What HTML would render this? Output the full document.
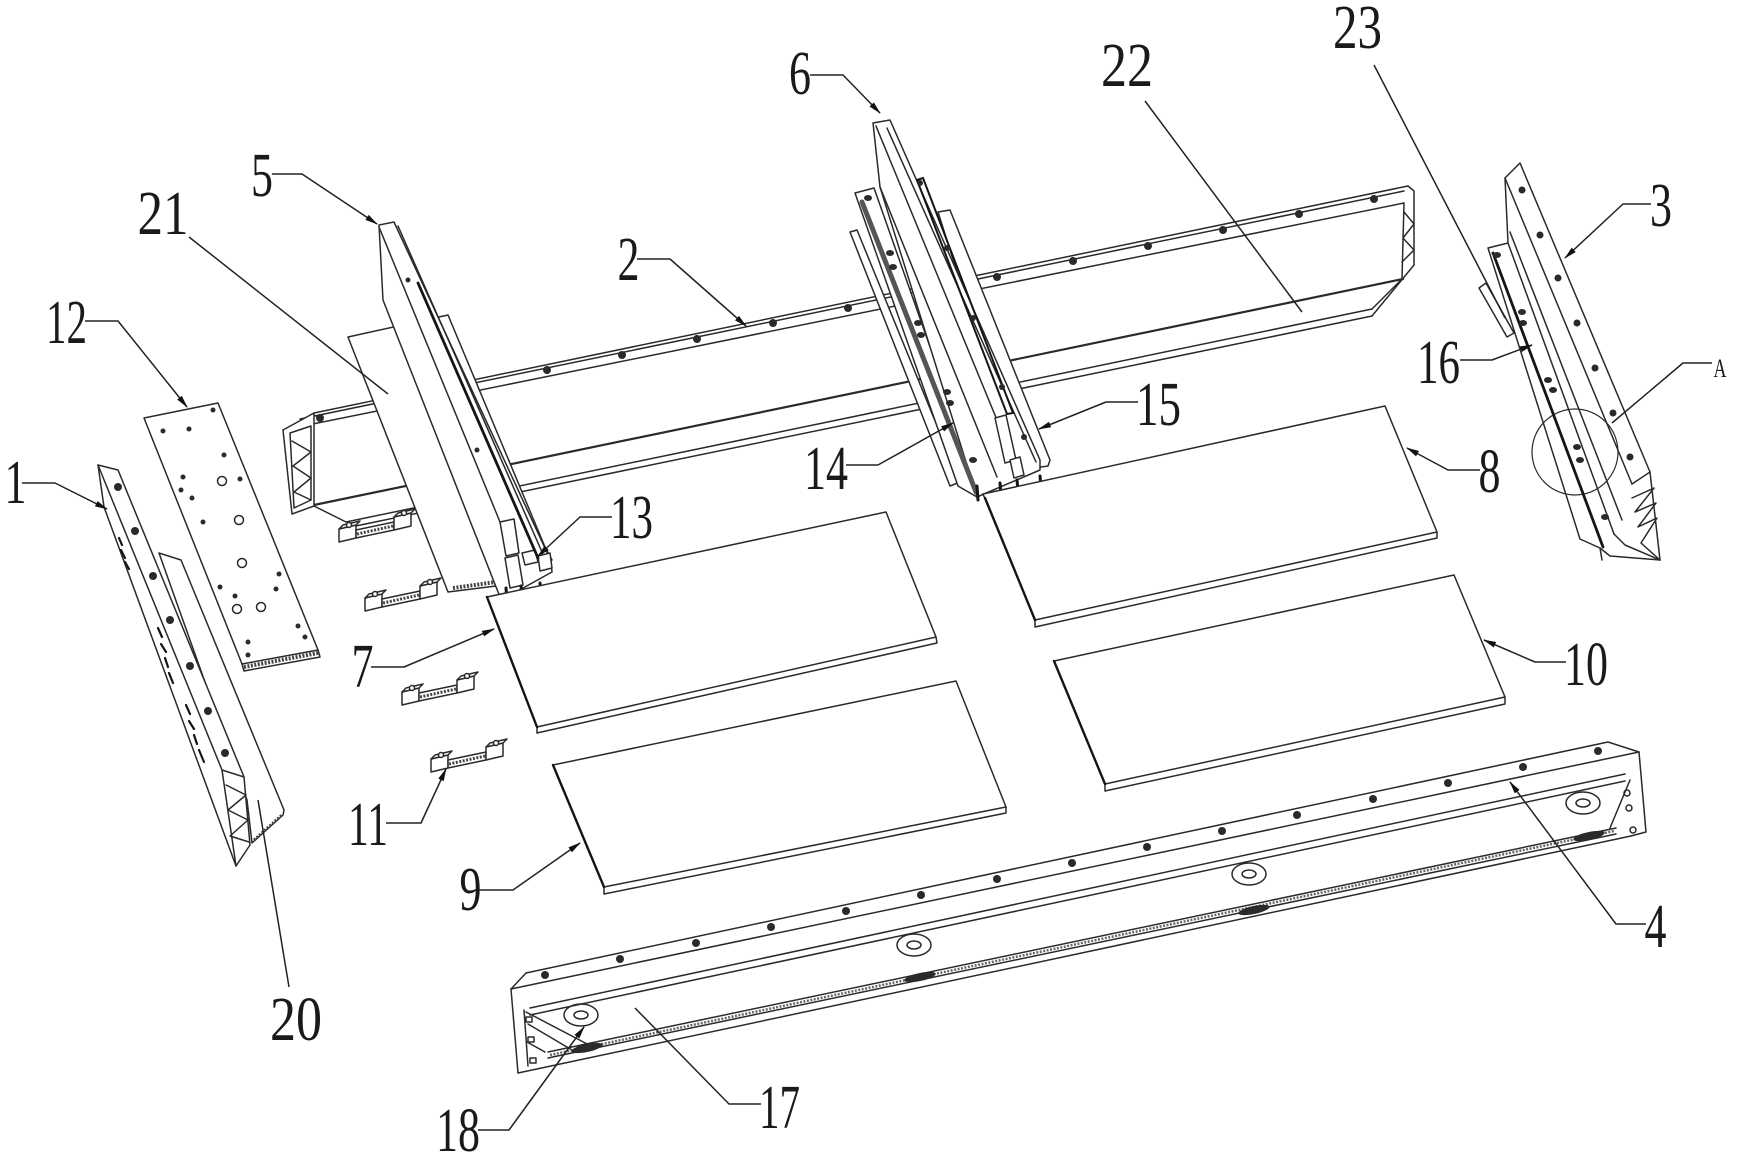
<!DOCTYPE html>
<html><head><meta charset="utf-8">
<style>
html,body{margin:0;padding:0;background:#fff;}
svg{display:block;}
.l{fill:none;stroke:#2a2a2a;stroke-width:1.5;stroke-linejoin:round;stroke-linecap:round}
.w{fill:#fff;stroke:#2a2a2a;stroke-width:1.5;stroke-linejoin:round}
.t{fill:none;stroke:#151515;stroke-width:2.8;stroke-linecap:round}
.d{fill:#2a2a2a}
.hb{fill:none;stroke:#444;stroke-width:4;stroke-dasharray:2 1.5}
.ld{fill:none;stroke:#222;stroke-width:1.5;stroke-linejoin:round}
text{font-family:"Liberation Serif","DejaVu Serif",serif;font-size:62px;fill:#1a1a1a}
</style></head><body>
<svg width="1737" height="1164" viewBox="0 0 1737 1164" xmlns="http://www.w3.org/2000/svg">
<defs><marker id="a" markerUnits="userSpaceOnUse" markerWidth="13" markerHeight="8" refX="12" refY="4" orient="auto"><path d="M0,1 L13,4 L0,7 z" fill="#111"/></marker></defs>

<!-- ===== Beam 2 (rear) ===== -->
<g class="l">
<line x1="314" y1="413" x2="1408" y2="186"/>
<line x1="300" y1="419" x2="1404" y2="191"/>
<line x1="283" y1="430" x2="1404" y2="203"/>
<line x1="314" y1="505" x2="1403" y2="279" style="stroke-width:2.2"/>
<line x1="314" y1="506" x2="346" y2="522"/>
<line x1="346" y1="522" x2="1372" y2="309"/>
<line x1="346" y1="528" x2="1372" y2="316"/>
<polygon class="w" points="283,430 314,413 314,506 292,514"/>
<polyline points="290,433 311,426 311,500 294,508 290,433"/>
<polyline points="292,441 311,452 293,466 311,478 294,492 311,500"/>
<polyline points="1408,186 1414,191 1414,265 1372,316"/>
<polyline points="1404,203 1402,279 1372,309"/>
<polyline points="1404,212 1414,224 1403,238 1414,250 1402,262"/>
</g>
<g class="d">
<circle cx="320" cy="418" r="4"/><circle cx="547" cy="370" r="4"/><circle cx="622" cy="355" r="4"/>
<circle cx="697" cy="339" r="4"/><circle cx="773" cy="323" r="4"/><circle cx="848" cy="308" r="4"/>
<circle cx="997" cy="277" r="4"/><circle cx="1073" cy="261" r="4"/><circle cx="1148" cy="246" r="4"/>
<circle cx="1223" cy="230" r="4"/><circle cx="1299" cy="214" r="4"/><circle cx="1374" cy="199" r="4"/>
</g>

<!-- ===== Plate 21 & Rail 5 ===== -->
<polygon class="w" points="348,337 448,315 545,547 552,560 496,586 448,592"/>
<line class="hb" x1="453" y1="588" x2="496" y2="582"/>
<polygon class="w" points="379,225 394,222 551,561 552,572 505,598 500,597 383,300"/>
<g class="l">
<line x1="379" y1="227" x2="500" y2="522"/>
<line x1="398" y1="226" x2="546" y2="561"/>
<polygon class="w" points="500,522 514,519 519,553 506,556"/>
<polygon class="w" points="505,558 518,555 523,585 510,588"/>
<polygon class="w" points="522,553 535,550 538,562 525,565"/>
<polygon class="w" points="538,556 550,553 552,568 540,571"/>
</g>
<line class="t" x1="418" y1="283" x2="538" y2="558"/>
<g class="t" style="stroke-width:3">
<line x1="506" y1="588" x2="507" y2="600"/><line x1="521" y1="586" x2="522" y2="597"/><line x1="540" y1="583" x2="541" y2="594"/>
</g>
<circle class="d" cx="408" cy="280" r="2.5"/><circle class="d" cx="477" cy="450" r="2.5"/>

<!-- ===== Brackets 11 ===== -->
<g class="w" transform="translate(339,542)">
<polygon points="0,0 0,-13 17,-17 17,-4"/><polygon points="0,-13 4,-17 21,-21 17,-17"/>
<polygon points="17,-4 17,-12 55,-20 55,-12"/><line class="hb" style="stroke-width:3" x1="18" y1="-8" x2="54" y2="-16"/>
<polygon points="55,-12 55,-25 72,-29 72,-16"/><polygon points="55,-25 59,-29 76,-33 72,-29"/>
<circle cx="10" cy="-17" r="2.5"/><circle cx="65" cy="-29" r="2.5"/></g>
<g class="w" transform="translate(365,611)">
<polygon points="0,0 0,-13 17,-17 17,-4"/><polygon points="0,-13 4,-17 21,-21 17,-17"/>
<polygon points="17,-4 17,-12 55,-20 55,-12"/><line class="hb" style="stroke-width:3" x1="18" y1="-8" x2="54" y2="-16"/>
<polygon points="55,-12 55,-25 72,-29 72,-16"/><polygon points="55,-25 59,-29 76,-33 72,-29"/>
<circle cx="10" cy="-17" r="2.5"/><circle cx="65" cy="-29" r="2.5"/></g>
<g class="w" transform="translate(402,705)">
<polygon points="0,0 0,-13 17,-17 17,-4"/><polygon points="0,-13 4,-17 21,-21 17,-17"/>
<polygon points="17,-4 17,-12 55,-20 55,-12"/><line class="hb" style="stroke-width:3" x1="18" y1="-8" x2="54" y2="-16"/>
<polygon points="55,-12 55,-25 72,-29 72,-16"/><polygon points="55,-25 59,-29 76,-33 72,-29"/>
<circle cx="10" cy="-17" r="2.5"/><circle cx="65" cy="-29" r="2.5"/></g>
<g class="w" transform="translate(431,772)">
<polygon points="0,0 0,-13 17,-17 17,-4"/><polygon points="0,-13 4,-17 21,-21 17,-17"/>
<polygon points="17,-4 17,-12 55,-20 55,-12"/><line class="hb" style="stroke-width:3" x1="18" y1="-8" x2="54" y2="-16"/>
<polygon points="55,-12 55,-25 72,-29 72,-16"/><polygon points="55,-25 59,-29 76,-33 72,-29"/>
<circle cx="10" cy="-17" r="2.5"/><circle cx="65" cy="-29" r="2.5"/></g>

<!-- ===== Rail 6 assembly ===== -->
<polygon class="w" points="938,212 950,210 1050,460 1048,466 1020,470"/>
<polygon class="w" points="850,232 857,230 960,482 950,486"/>
<polygon class="w" points="855,193 874,188 977,480 977,497 958,486"/>
<polygon class="w" points="873,123 890,120 1040,460 1040,470 977,497 880,187"/>
<g class="l">
<line x1="876" y1="126" x2="997" y2="420"/>
<line x1="887" y1="128" x2="1036" y2="462"/>
<line x1="880" y1="187" x2="997" y2="477"/>
<polygon class="w" points="995,418 1006,415 1016,460 1005,463"/>
<polygon class="w" points="1010,460 1020,457 1024,475 1014,478"/>
</g>
<line x1="862" y1="202" x2="976" y2="492" style="stroke:#555;stroke-width:5;stroke-linecap:round"/>
<g class="t" style="stroke-width:2">
<polyline points="917,180 923,178 1013,413 1007,414 917,180"/>
</g>
<g class="t" style="stroke-width:3">
<line x1="977" y1="486" x2="978" y2="500"/><line x1="1000" y1="483" x2="1001" y2="495"/>
<line x1="1017" y1="480" x2="1018" y2="491"/><line x1="1040" y1="476" x2="1041" y2="487"/>
</g>
<g class="d">
<ellipse cx="868" cy="198" rx="4" ry="3"/><ellipse cx="890" cy="253" rx="4" ry="3"/><ellipse cx="893" cy="267" rx="4" ry="3"/>
<ellipse cx="918" cy="323" rx="4" ry="3"/><ellipse cx="921" cy="335" rx="4" ry="3"/><ellipse cx="947" cy="392" rx="4" ry="3"/>
<ellipse cx="950" cy="403" rx="4" ry="3"/><ellipse cx="973" cy="460" rx="4" ry="3"/>
<circle cx="920" cy="183" r="3"/><circle cx="947" cy="248" r="3"/><circle cx="973" cy="318" r="3"/>
<circle cx="1002" cy="387" r="3"/><circle cx="1024" cy="437" r="3"/>
</g>

<!-- ===== Part 3 / 16 / 23 ===== -->
<polygon class="w" points="1488,248 1508,243 1505,178 1520,163 1650,472 1660,560 1610,556 1600,548 1580,539"/>
<g class="l">
<line x1="1505" y1="178" x2="1632" y2="484"/>
<line x1="1510" y1="232" x2="1622" y2="520"/>
<line x1="1508" y1="243" x2="1614" y2="534"/>
<polyline points="1632,484 1650,472"/>
<polyline points="1632,498 1654,488 1635,512 1656,503 1638,527 1657,518 1641,543 1660,560"/>
<polyline points="1614,534 1625,545 1660,560"/>
<line x1="1600" y1="548" x2="1602" y2="560"/>
<polygon class="w" points="1479,288 1486,283 1514,333 1507,337"/>
<circle cx="1575" cy="452" r="43" style="stroke-width:1.2"/>
</g>
<line class="t" x1="1493" y1="253" x2="1603" y2="547"/>
<g class="d">
<circle cx="1522" cy="190" r="3.5"/><circle cx="1540" cy="235" r="3.5"/><circle cx="1558" cy="278" r="3.5"/>
<circle cx="1577" cy="323" r="3.5"/><circle cx="1595" cy="368" r="3.5"/><circle cx="1613" cy="413" r="3.5"/>
<circle cx="1630" cy="457" r="3.5"/>
<ellipse cx="1497" cy="255" rx="4" ry="3"/><ellipse cx="1522" cy="312" rx="4" ry="3"/><ellipse cx="1523" cy="323" rx="4" ry="3"/>
<ellipse cx="1548" cy="380" rx="4" ry="3"/><ellipse cx="1553" cy="390" rx="4" ry="3"/><ellipse cx="1577" cy="447" rx="4" ry="3"/>
<ellipse cx="1580" cy="460" rx="4" ry="3"/><ellipse cx="1605" cy="517" rx="4" ry="3"/>
</g>

<!-- ===== Panels ===== -->
<g class="l">
<polygon class="w" points="487,597 886,512 936,637 537,727"/>
<polyline points="537,727 537,733 937,643 936,637"/>
<polygon class="w" points="983,494 1385,406 1437,532 1035,620"/>
<polyline points="1035,620 1035,627 1437,538 1437,532"/>
<polygon class="w" points="553,765 956,681 1006,807 604,887"/>
<polyline points="604,887 604,894 1006,813 1006,807"/>
<polygon class="w" points="1054,661 1454,575 1505,697 1105,784"/>
<polyline points="1105,784 1105,791 1505,704 1505,697"/>
</g>
<g class="t" style="stroke-width:2.4">
<line x1="487" y1="597" x2="537" y2="727"/>
<line x1="985" y1="498" x2="1035" y2="620"/>
<line x1="553" y1="765" x2="604" y2="887"/>
<line x1="1054" y1="661" x2="1105" y2="784"/>
</g>

<!-- ===== Bottom beam 4 / 17 ===== -->
<g class="l">
<line x1="526" y1="973" x2="1608" y2="742"/>
<line x1="511" y1="989" x2="1639" y2="752"/>
<line x1="530" y1="1008" x2="1625" y2="774"/>
<line x1="530" y1="1015" x2="1625" y2="781"/>
<line x1="548" y1="1052" x2="1616" y2="828"/>
<line x1="548" y1="1058" x2="1616" y2="834"/>
<line x1="518" y1="1073" x2="1631" y2="836"/>
<polyline points="511,989 526,973"/>
<polyline points="511,989 518,1073"/>
<polyline points="524,1010 528,1066"/>
<line x1="526" y1="1012" x2="591" y2="1046"/>
<line x1="528" y1="1024" x2="572" y2="1050"/>
<line x1="527" y1="1042" x2="545" y2="1052"/>
<rect x="526" y="1017" width="6" height="5"/><rect x="528" y="1037" width="6" height="5"/><rect x="530" y="1058" width="6" height="5"/>
<polyline points="1608,742 1639,752 1646,832 1631,836"/>
<line x1="1610" y1="828" x2="1630" y2="780"/>
<circle cx="1627" cy="793" r="3"/><circle cx="1629" cy="808" r="3"/><circle cx="1633" cy="830" r="3"/>
<ellipse cx="581" cy="1015" rx="17" ry="11"/><ellipse cx="581" cy="1015" rx="7" ry="4"/>
<ellipse cx="914" cy="945" rx="17" ry="11"/><ellipse cx="914" cy="945" rx="7" ry="4"/>
<ellipse cx="1249" cy="874" rx="17" ry="11"/><ellipse cx="1249" cy="874" rx="7" ry="4"/>
<ellipse cx="1583" cy="803" rx="17" ry="11"/><ellipse cx="1583" cy="803" rx="7" ry="4"/>
</g>
<line class="hb" style="stroke-width:2.5;stroke:#666" x1="550" y1="1055" x2="1614" y2="831"/>
<g class="d">
<ellipse cx="587" cy="1048" rx="16" ry="4" transform="rotate(-12 587 1048)"/>
<ellipse cx="920" cy="977" rx="16" ry="4" transform="rotate(-12 920 977)"/>
<ellipse cx="1254" cy="910" rx="16" ry="4" transform="rotate(-12 1254 910)"/>
<ellipse cx="1589" cy="836" rx="16" ry="4" transform="rotate(-12 1589 836)"/>
<circle cx="545" cy="975" r="4"/><circle cx="620" cy="959" r="4"/><circle cx="696" cy="943" r="4"/>
<circle cx="771" cy="927" r="4"/><circle cx="846" cy="911" r="4"/><circle cx="921" cy="895" r="4"/>
<circle cx="997" cy="879" r="4"/><circle cx="1072" cy="863" r="4"/><circle cx="1147" cy="847" r="4"/>
<circle cx="1222" cy="831" r="4"/><circle cx="1297" cy="815" r="4"/><circle cx="1373" cy="799" r="4"/>
<circle cx="1448" cy="783" r="4"/><circle cx="1523" cy="767" r="4"/><circle cx="1598" cy="751" r="4"/>
</g>

<!-- ===== Plate 12 ===== -->
<polygon class="w" points="144,418 218,403 318,650 242,664"/>
<polyline class="l" points="242,664 244,671 320,657 318,650"/>
<line class="hb" style="stroke-width:4" x1="244" y1="667" x2="318" y2="653"/>
<g class="d">
<circle cx="163" cy="431" r="2.5"/><circle cx="189" cy="429" r="2.5"/><circle cx="213" cy="410" r="2.5"/>
<circle cx="224" cy="455" r="2.5"/><circle cx="183" cy="477" r="2.5"/><circle cx="240" cy="479" r="2.5"/>
<circle cx="181" cy="490" r="2.5"/><circle cx="192" cy="498" r="2.5"/><circle cx="203" cy="522" r="2.5"/>
<circle cx="279" cy="574" r="2.5"/><circle cx="220" cy="587" r="2.5"/><circle cx="276" cy="589" r="2.5"/>
<circle cx="235" cy="596" r="2.5"/><circle cx="298" cy="626" r="2.5"/><circle cx="248" cy="642" r="2.5"/>
<circle cx="305" cy="637" r="2.5"/><circle cx="248" cy="655" r="2.5"/>
</g>
<g class="l">
<circle cx="222" cy="481" r="4.5"/><circle cx="239" cy="520" r="4.5"/><circle cx="242" cy="563" r="4.5"/>
<circle cx="261" cy="607" r="4.5"/><circle cx="237" cy="609" r="4.5"/>
</g>

<!-- ===== Part 20 & Part 1 ===== -->
<polygon class="w" points="159,553 181,560 284,810 283,815 252,843 247,800"/>
<line class="hb" style="stroke-width:3" x1="254" y1="840" x2="282" y2="815"/>
<polygon class="w" points="98,465 118,470 244,777 250,845 236,866 104,507"/>
<g class="l">
<line x1="98" y1="465" x2="222" y2="770"/>
<polyline points="222,770 244,777"/>
<polyline points="226,785 246,795 228,810 248,820 230,836 249,842"/>
<line x1="222" y1="770" x2="236" y2="866"/>
</g>
<g class="d">
<circle cx="118" cy="487" r="4"/><circle cx="135" cy="531" r="4"/><circle cx="153" cy="576" r="4"/>
<circle cx="170" cy="620" r="4"/><circle cx="190" cy="666" r="4"/><circle cx="208" cy="711" r="4"/>
<circle cx="225" cy="753" r="4"/>
</g>
<g class="t" style="stroke-width:2.2">
<path d="M119,538 l3,7 M121,550 l4,8 M125,562 l4,7"/>
<path d="M158,628 l4,9 M161,644 l5,8 M165,658 l3,9 M169,673 l4,10"/>
<path d="M186,705 l4,9 M189,721 l5,8 M194,735 l3,9 M199,750 l5,12"/>
</g>

<!-- ===== Leaders ===== -->
<g class="ld">
<polyline points="22,483 55,483 107,509" marker-end="url(#a)"/>
<polyline points="85,321 118,321 187,407" marker-end="url(#a)"/>
<line x1="189" y1="237" x2="388" y2="394"/>
<polyline points="272,174 302,174 377,224" marker-end="url(#a)"/>
<polyline points="637,259 670,259 746,326" marker-end="url(#a)"/>
<polyline points="810,75 843,75 880,113" marker-end="url(#a)"/>
<line x1="1145" y1="101" x2="1302" y2="312"/>
<line x1="1374" y1="65" x2="1505" y2="318"/>
<polyline points="1651,204 1623,204 1565,258" marker-end="url(#a)"/>
<polyline points="1460,360 1492,360 1532,345" marker-end="url(#a)"/>
<polyline points="1712,363 1683,363 1612,423"/>
<polyline points="1138,402 1106,402 1039,429" marker-end="url(#a)"/>
<polyline points="846,465 878,465 953,423" marker-end="url(#a)"/>
<polyline points="612,517 580,517 538,556" marker-end="url(#a)"/>
<polyline points="1480,470 1448,470 1407,448" marker-end="url(#a)"/>
<polyline points="1566,662 1535,662 1484,640" marker-end="url(#a)"/>
<polyline points="371,667 404,667 494,629" marker-end="url(#a)"/>
<polyline points="386,823 421,823 446,769" marker-end="url(#a)"/>
<polyline points="478,890 513,890 580,843" marker-end="url(#a)"/>
<polyline points="1646,924 1616,924 1510,782" marker-end="url(#a)"/>
<line x1="289" y1="987" x2="258" y2="800"/>
<polyline points="761,1104 729,1104 635,1008"/>
<polyline points="478,1130 509,1130 584,1027" marker-end="url(#a)"/>
</g>

<!-- ===== Labels ===== -->
<g text-anchor="middle">
<text x="15.5" y="503" textLength="22" lengthAdjust="spacingAndGlyphs">1</text>
<text x="66.5" y="343" textLength="41" lengthAdjust="spacingAndGlyphs">12</text>
<text x="163" y="234" textLength="51" lengthAdjust="spacingAndGlyphs">21</text>
<text x="262" y="196" textLength="22" lengthAdjust="spacingAndGlyphs">5</text>
<text x="628.5" y="280" textLength="22" lengthAdjust="spacingAndGlyphs">2</text>
<text x="800" y="94" textLength="22" lengthAdjust="spacingAndGlyphs">6</text>
<text x="1127" y="86" textLength="52" lengthAdjust="spacingAndGlyphs">22</text>
<text x="1357.5" y="48" textLength="49" lengthAdjust="spacingAndGlyphs">23</text>
<text x="1661" y="226" textLength="22" lengthAdjust="spacingAndGlyphs">3</text>
<text x="1438.5" y="383" textLength="43" lengthAdjust="spacingAndGlyphs">16</text>
<text x="1720" y="377" textLength="13" lengthAdjust="spacingAndGlyphs" style="font-size:26px">A</text>
<text x="1158.5" y="425" textLength="45" lengthAdjust="spacingAndGlyphs">15</text>
<text x="826" y="489" textLength="44" lengthAdjust="spacingAndGlyphs">14</text>
<text x="631.5" y="538" textLength="43" lengthAdjust="spacingAndGlyphs">13</text>
<text x="1489.5" y="492" textLength="22" lengthAdjust="spacingAndGlyphs">8</text>
<text x="1586" y="685" textLength="44" lengthAdjust="spacingAndGlyphs">10</text>
<text x="362.5" y="687" textLength="22" lengthAdjust="spacingAndGlyphs">7</text>
<text x="368" y="845" textLength="40" lengthAdjust="spacingAndGlyphs">11</text>
<text x="470.5" y="910" textLength="22" lengthAdjust="spacingAndGlyphs">9</text>
<text x="1655.5" y="947" textLength="22" lengthAdjust="spacingAndGlyphs">4</text>
<text x="296" y="1040" textLength="52" lengthAdjust="spacingAndGlyphs">20</text>
<text x="779.5" y="1128" textLength="41" lengthAdjust="spacingAndGlyphs">17</text>
<text x="458" y="1151" textLength="44" lengthAdjust="spacingAndGlyphs">18</text>
</g>
</svg>
</body></html>
